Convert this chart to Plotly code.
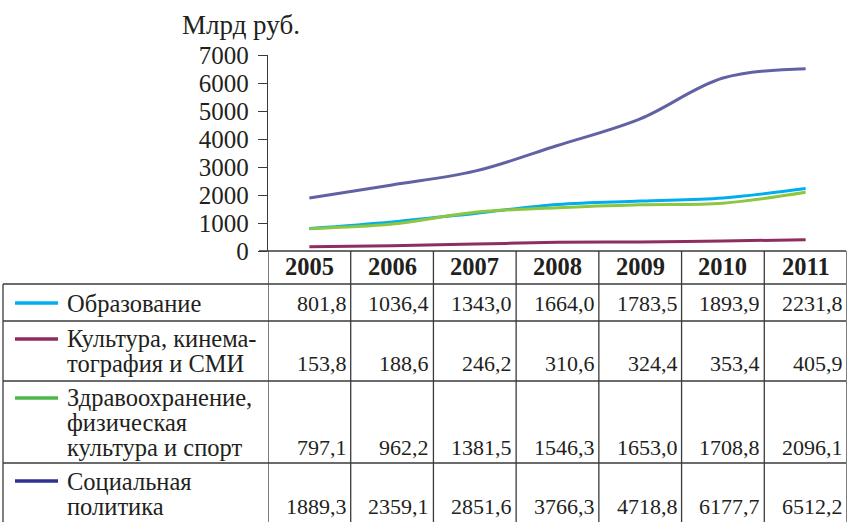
import plotly.graph_objects as go

years = ["2005", "2006", "2007", "2008", "2009", "2010", "2011"]
series_names = [
    ["Образование"],
    ["Культура, кинема-", "тография и СМИ"],
    ["Здравоохранение,", "физическая", "культура и спорт"],
    ["Социальная", "политика"],
]
education = [801.8, 1036.4, 1343.0, 1664.0, 1783.5, 1893.9, 2231.8]
culture = [153.8, 188.6, 246.2, 310.6, 324.4, 353.4, 405.9]
health = [797.1, 962.2, 1381.5, 1546.3, 1653.0, 1708.8, 2096.1]
social = [1889.3, 2359.1, 2851.6, 3766.3, 4718.8, 6177.7, 6512.2]
y_ticks = [0, 1000, 2000, 3000, 4000, 5000, 6000, 7000]

line_colors = ["#00AEEF", "#8E2D60", "#8DC63F", "#6062A4"]
swatch_colors = ["#00AEEF", "#8E2D60", "#4DB848", "#2E3192"]
all_series = [education, culture, health, social]

W, H = 847, 522
L, R, T, B = 268, 0, 55, 271
PW = W - L - R
PH = H - T - B
Y0 = T + PH  # pixel of zero line


def px2x(px):
    return (px - L) / PW


def py2y(py):
    return (Y0 - py) / PH


fig = go.Figure()
xs = list(range(len(years)))
for name, vals, col in zip(series_names, all_series, line_colors):
    fig.add_trace(go.Scatter(
        x=xs, y=vals, mode="lines", name=" ".join(name),
        line=dict(color=col, width=3, shape="spline", smoothing=1.0),
        hoverinfo="skip", showlegend=False,
    ))

grid = "#3a3a3a"
shapes = []
row_lines = [284, 321, 381, 463]
right_px = 846
shapes.append(dict(type="line", xref="paper", yref="paper",
                   x0=px2x(259), x1=px2x(right_px), y0=py2y(Y0), y1=py2y(Y0),
                   line=dict(color=grid, width=1.3)))
for ry in row_lines:
    shapes.append(dict(type="line", xref="paper", yref="paper",
                       x0=px2x(3), x1=px2x(right_px), y0=py2y(ry), y1=py2y(ry),
                       line=dict(color=grid, width=1.3)))
shapes.append(dict(type="line", xref="paper", yref="paper",
                   x0=px2x(3), x1=px2x(3), y0=py2y(284), y1=py2y(H + 5),
                   line=dict(color=grid, width=1.3)))
for i in range(len(years) + 1):
    shapes.append(dict(type="line", xref="x", yref="paper",
                       x0=i - 0.5, x1=i - 0.5, y0=py2y(Y0), y1=py2y(H + 5),
                       line=dict(color=grid, width=1.3)))

annotations = []
font_serif = "Liberation Serif, Times New Roman, serif"
txt_col = "#231F20"
annotations.append(dict(text="Млрд руб.", xref="paper", yref="paper",
                        x=px2x(180), y=py2y(25), xanchor="left", yanchor="middle",
                        showarrow=False, font=dict(family=font_serif, size=27, color=txt_col)))
for i, yr in enumerate(years):
    annotations.append(dict(text="<b>%s</b>" % yr, xref="x", yref="paper",
                            x=i, y=py2y(266), xanchor="center", yanchor="middle",
                            showarrow=False, font=dict(family=font_serif, size=24.5, color=txt_col)))

label_lines_y = [[303], [338, 363], [397, 422, 447], [481, 507]]
swatch_y = [303, 339, 398, 481]
for k, (names, vals) in enumerate(zip(series_names, all_series)):
    shapes.append(dict(type="line", xref="paper", yref="paper",
                       x0=px2x(15), x1=px2x(58), y0=py2y(swatch_y[k]), y1=py2y(swatch_y[k]),
                       line=dict(color=swatch_colors[k], width=3.5)))
    for ln, ly in zip(names, label_lines_y[k]):
        annotations.append(dict(text=ln, xref="paper", yref="paper",
                                x=px2x(65), y=py2y(ly), xanchor="left", yanchor="middle",
                                showarrow=False, font=dict(family=font_serif, size=24.5, color=txt_col)))
    vy = label_lines_y[k][-1]
    for i, v in enumerate(vals):
        annotations.append(dict(text=("%.1f" % v).replace(".", ","), xref="x", yref="paper",
                                x=i + 0.5, y=py2y(vy), xanchor="right", yanchor="middle", xshift=-2,
                                showarrow=False, font=dict(family=font_serif, size=22, color=txt_col)))

fig.update_layout(
    width=W, height=H,
    margin=dict(l=L, r=R, t=T, b=B, pad=0),
    paper_bgcolor="white", plot_bgcolor="white",
    xaxis=dict(range=[-0.5, len(years) - 0.5], showticklabels=False, showgrid=False,
               zeroline=False, showline=False, ticks=""),
    yaxis=dict(range=[0, 7000], tickvals=y_ticks, showgrid=False, zeroline=False,
               showline=True, linecolor=grid, linewidth=1.3,
               ticks="outside", ticklen=9, tickcolor=grid, tickwidth=1.3,
               ticklabelstandoff=4,
               tickfont=dict(family=font_serif, size=25, color=txt_col)),
    shapes=shapes, annotations=annotations,
)

fig.write_html("out.html", config={"displayModeBar": False},
               post_script="document.body.style.margin='0';document.body.style.overflow='hidden';")
